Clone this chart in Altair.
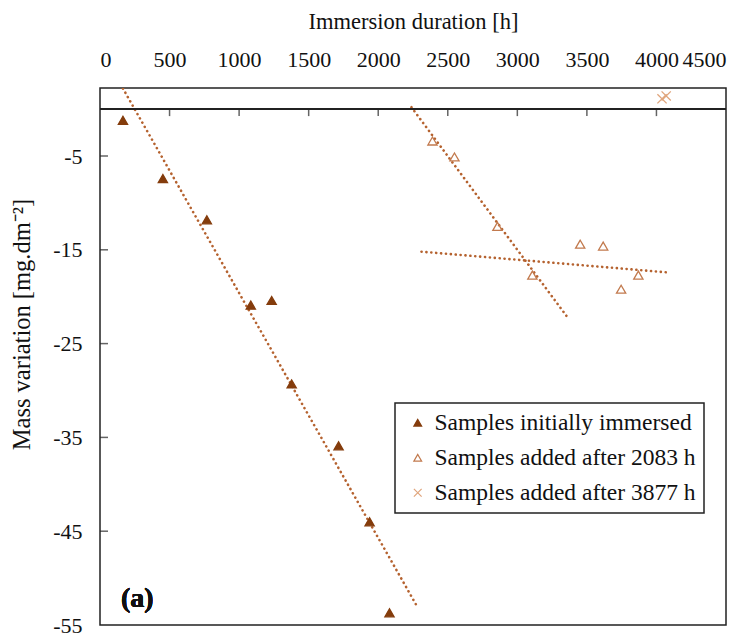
import altair as alt
import pandas as pd

# ---- data ----
series_names = ["Samples initially immersed", "Samples added after 2083 h", "Samples added after 3877 h"]

t_initial = [165, 452, 768, 1084, 1234, 1378, 1715, 1938, 2081]
m_initial = [-1.2, -7.4, -11.8, -20.9, -20.4, -29.3, -35.9, -44.0, -53.7]

t_2083 = [2390, 2548, 2857, 3108, 3452, 3617, 3746, 3870]
m_2083 = [-3.4, -5.1, -12.5, -17.7, -14.4, -14.6, -19.2, -17.7]

t_3877 = [4040, 4070]
m_3877 = [1.1, 1.4]

# trend-line end points (as drawn)
trend_t = [165, 2275, 2239, 3366, 2311, 4069]
trend_m = [2.2, -52.9, 0.2, -22.3, -15.2, -17.4]
trend_id = ["initial", "initial", "added_a", "added_a", "added_b", "added_b"]

x_tick_values = [0, 500, 1000, 1500, 2000, 2500, 3000, 3500, 4000, 4500]
y_tick_values = [-55, -45, -35, -25, -15, -5]

# ---- tables ----
points = pd.DataFrame({
    "t": t_initial + t_2083 + t_3877,
    "m": m_initial + m_2083 + m_3877,
    "series": [series_names[0]] * len(t_initial)
    + [series_names[1]] * len(t_2083)
    + [series_names[2]] * len(t_3877),
})
trend = pd.DataFrame({"t": trend_t, "m": trend_m, "id": trend_id})
xticks_df = pd.DataFrame({"t": x_tick_values[1:-1]})
yticks_df = pd.DataFrame({"m": y_tick_values[1:]})

FONT = "Liberation Serif, serif"
X_TITLE = "Immersion duration [h]"
Y_TITLE = "Mass variation [mg.dm⁻²]"
x_scale = alt.Scale(domain=[0, 4500], nice=False, zero=False)
y_scale = alt.Scale(domain=[-55, 2.25], nice=False, zero=False)

x_axis = alt.Axis(orient="top", values=x_tick_values, title=X_TITLE,
                  labelExpr="'' + datum.value",
                  ticks=False, tickSize=0, domain=False, grid=False,
                  labelFont=FONT, labelFontSize=22, labelColor="#111", labelPadding=17,
                  titleFont=FONT, titleFontSize=22.5, titleFontWeight="normal", titleColor="#111",
                  titlePadding=15)
y_axis = alt.Axis(orient="left", values=y_tick_values, title=Y_TITLE,
                  labelExpr="'' + datum.value",
                  ticks=False, tickSize=0, domain=False, grid=False,
                  labelFont=FONT, labelFontSize=22, labelColor="#111", labelPadding=18,
                  titleFont=FONT, titleFontSize=24.5, titleFontWeight="normal", titleColor="#111",
                  titleX=-78, titleY=236, titleBaseline="middle", titleAlign="center",
                  titleAngle=270)

line_color = "#B5622F"

X = alt.X("t:Q", scale=x_scale, axis=x_axis, title=X_TITLE)
Y = alt.Y("m:Q", scale=y_scale, axis=y_axis, title=Y_TITLE)

trend_layer = alt.Chart(trend).mark_line(
    color=line_color, strokeWidth=2.6, strokeDash=[0.1, 4.8], strokeCap="round", clip=True
).encode(x=X, y=Y, detail="id:N")

points_layer = alt.Chart(points).mark_point(opacity=1, strokeWidth=1.3, size=85).encode(
    x=X, y=Y,
    shape=alt.Shape("series:N", scale=alt.Scale(
        domain=series_names,
        range=["triangle-up", "triangle-up", "M-1,-1L1,1M-1,1L1,-1"]), title=None),
    fill=alt.Fill("series:N", scale=alt.Scale(
        domain=series_names, range=["#843C0C", "transparent", "transparent"]), title=None),
    stroke=alt.Stroke("series:N", scale=alt.Scale(
        domain=series_names, range=["#843C0C", "#C27A4E", "#E0A57C"]), title=None),
)

zero_line = alt.Chart(trend).mark_rule(color="#222", strokeWidth=1.5).encode(
    y=alt.YDatum(0, scale=y_scale, axis=y_axis, title=Y_TITLE)
)

x_ticks = alt.Chart(xticks_df).mark_tick(
    orient="vertical", size=7, thickness=1.5, color="#222", yOffset=3.5
).encode(
    x=X,
    y=alt.YDatum(0, scale=y_scale, axis=y_axis, title=Y_TITLE),
)

y_ticks = alt.Chart(yticks_df).mark_tick(
    orient="horizontal", size=8, thickness=1.5, color="#222", xOffset=4
).encode(
    x=alt.XDatum(0, scale=x_scale, axis=x_axis, title=X_TITLE),
    y=Y,
)

panel_label = alt.Chart(trend).mark_text(
    text="(a)", font=FONT, fontSize=28, fontWeight="bold", color="#111",
    align="left", baseline="middle"
).encode(x=alt.value(21), y=alt.value(511))

chart = alt.layer(
    trend_layer, zero_line, x_ticks, y_ticks, points_layer, panel_label
).properties(
    width=626, height=537,
    autosize=alt.AutoSizeParams(type="none"),
    padding={"left": 100, "top": 88, "right": 26, "bottom": 19},
    background="white",
).configure_view(
    stroke="#222", strokeWidth=1.5
).configure_legend(
    orient="none", legendX=295, legendY=315,
    strokeColor="#222", strokeWidth=1.5, fillColor="white",
    padding=8, cornerRadius=0,
    labelFont=FONT, labelFontSize=23.5, labelColor="#111", labelOffset=5, labelLimit=0,
    rowPadding=10, symbolSize=60, symbolStrokeWidth=1.2, symbolOffset=3,
)

chart.save("out.html", embed_options={"renderer": "svg", "actions": False})
